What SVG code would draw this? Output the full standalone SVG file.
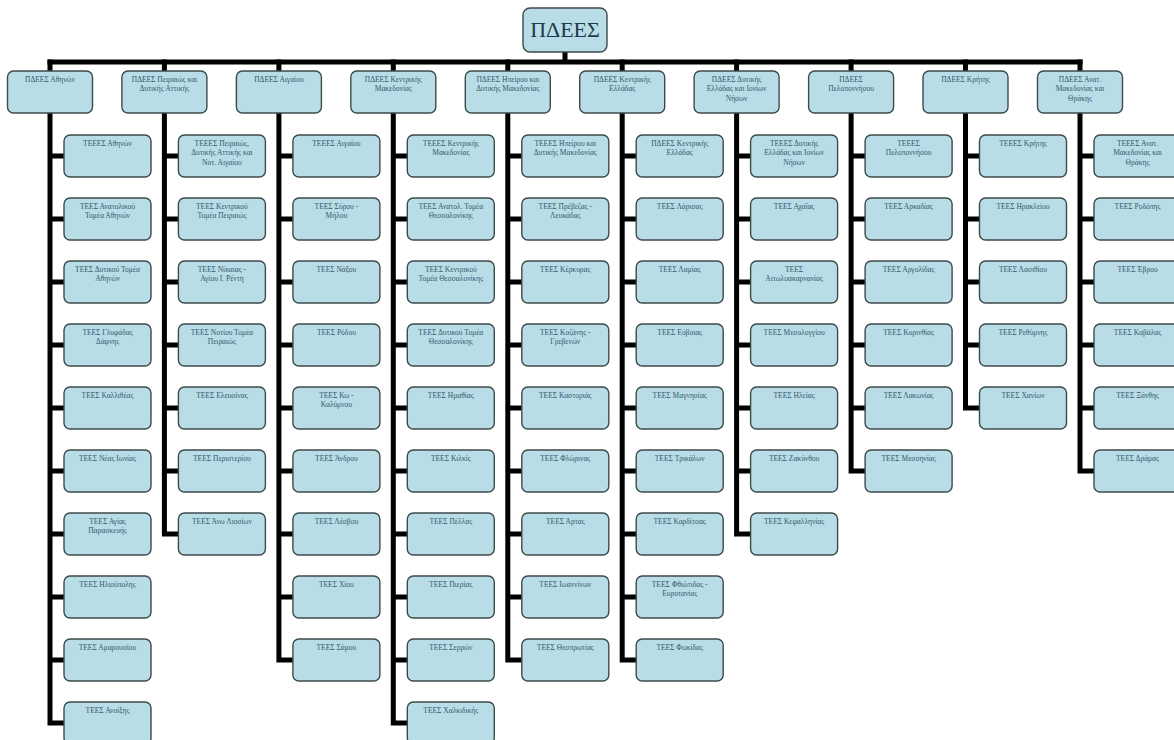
<svg xmlns="http://www.w3.org/2000/svg" width="1174" height="740" viewBox="0 0 1174 740">
<style>
.b{fill:#b9dde6;stroke:#3d4a4c;stroke-width:1.4}
.t{font-family:"Liberation Serif","Times New Roman",serif;font-size:7.5px;fill:#34576d;text-anchor:middle}
.r{font-family:"Liberation Serif","Times New Roman",serif;font-size:22px;fill:#1f3a4c;text-anchor:middle}
.c{stroke:#000;stroke-width:5;fill:none;stroke-linejoin:miter;stroke-linecap:square}
</style>
<rect width="1174" height="740" fill="#fff"/>
<g id="connectors" class="c">
<path d="M565 52V62M50 62H1080"/>
<path d="M50 62V71M164.4 62V71M278.9 62V71M393.3 62V71M507.8 62V71M622.2 62V71M736.6 62V71M851.1 62V71M965.5 62V71M1080 62V71"/>
<path d="M50 113V723H64M50 156H64M50 219H64M50 282H64M50 345H64M50 408H64M50 471H64M50 534H64M50 597H64M50 660H64"/>
<path d="M164.4 113V534H178.4M164.4 156H178.4M164.4 219H178.4M164.4 282H178.4M164.4 345H178.4M164.4 408H178.4M164.4 471H178.4"/>
<path d="M278.9 113V660H292.9M278.9 156H292.9M278.9 219H292.9M278.9 282H292.9M278.9 345H292.9M278.9 408H292.9M278.9 471H292.9M278.9 534H292.9M278.9 597H292.9"/>
<path d="M393.3 113V723H407.3M393.3 156H407.3M393.3 219H407.3M393.3 282H407.3M393.3 345H407.3M393.3 408H407.3M393.3 471H407.3M393.3 534H407.3M393.3 597H407.3M393.3 660H407.3"/>
<path d="M507.8 113V660H521.8M507.8 156H521.8M507.8 219H521.8M507.8 282H521.8M507.8 345H521.8M507.8 408H521.8M507.8 471H521.8M507.8 534H521.8M507.8 597H521.8"/>
<path d="M622.2 113V660H636.2M622.2 156H636.2M622.2 219H636.2M622.2 282H636.2M622.2 345H636.2M622.2 408H636.2M622.2 471H636.2M622.2 534H636.2M622.2 597H636.2"/>
<path d="M736.6 113V534H750.6M736.6 156H750.6M736.6 219H750.6M736.6 282H750.6M736.6 345H750.6M736.6 408H750.6M736.6 471H750.6"/>
<path d="M851.1 113V471H865.1M851.1 156H865.1M851.1 219H865.1M851.1 282H865.1M851.1 345H865.1M851.1 408H865.1"/>
<path d="M965.5 113V408H979.5M965.5 156H979.5M965.5 219H979.5M965.5 282H979.5M965.5 345H979.5"/>
<path d="M1080 113V471H1094M1080 156H1094M1080 219H1094M1080 282H1094M1080 345H1094M1080 408H1094"/>
</g>
<g id="root"><rect class="b" x="523" y="8" width="84" height="44" rx="7"/><text class="r" x="565" y="37">ΠΔΕΕΣ</text></g>

<g id="h1"><rect class="b" x="7.5" y="71" width="85" height="42" rx="6"/><text class="t" x="50" y="81.5">ΠΔΕΕΣ Αθηνών</text></g>
<g id="h2"><rect class="b" x="121.9" y="71" width="85" height="42" rx="6"/><text class="t" x="164.4" y="81.5">ΠΔΕΕΣ Πειραιώς και<tspan x="164.4" dy="9.5">Δυτικής Αττικής</tspan></text></g>
<g id="h3"><rect class="b" x="236.4" y="71" width="85" height="42" rx="6"/><text class="t" x="278.9" y="81.5">ΠΔΕΕΣ Αιγαίου</text></g>
<g id="h4"><rect class="b" x="350.8" y="71" width="85" height="42" rx="6"/><text class="t" x="393.3" y="81.5">ΠΔΕΕΣ Κεντρικής<tspan x="393.3" dy="9.5">Μακεδονίας</tspan></text></g>
<g id="h5"><rect class="b" x="465.3" y="71" width="85" height="42" rx="6"/><text class="t" x="507.8" y="81.5">ΠΔΕΕΣ Ηπείρου και<tspan x="507.8" dy="9.5">Δυτικής Μακεδονίας</tspan></text></g>
<g id="h6"><rect class="b" x="579.7" y="71" width="85" height="42" rx="6"/><text class="t" x="622.2" y="81.5">ΠΔΕΕΣ  Κεντρικής<tspan x="622.2" dy="9.5">Ελλάδας</tspan></text></g>
<g id="h7"><rect class="b" x="694.1" y="71" width="85" height="42" rx="6"/><text class="t" x="736.6" y="81.5">ΠΔΕΕΣ Δυτικής<tspan x="736.6" dy="9.5">Ελλάδας και Ιονίων</tspan><tspan x="736.6" dy="9.5">Νήσων</tspan></text></g>
<g id="h8"><rect class="b" x="808.6" y="71" width="85" height="42" rx="6"/><text class="t" x="851.1" y="81.5">ΠΔΕΕΣ<tspan x="851.1" dy="9.5">Πελοποννήσου</tspan></text></g>
<g id="h9"><rect class="b" x="923" y="71" width="85" height="42" rx="6"/><text class="t" x="965.5" y="81.5">ΠΔΕΕΣ Κρήτης</text></g>
<g id="h10"><rect class="b" x="1037.5" y="71" width="85" height="42" rx="6"/><text class="t" x="1080" y="81.5">ΠΔΕΕΣ Ανατ.<tspan x="1080" dy="9.5">Μακεδονίας και</tspan><tspan x="1080" dy="9.5">Θράκης</tspan></text></g>

<g id="c1">
<g id="c1-1"><rect class="b" x="64" y="135" width="87" height="42" rx="6"/><text class="t" x="107.5" y="145.5">ΤΕΕΕΣ Αθηνών</text></g>
<g id="c1-2"><rect class="b" x="64" y="198" width="87" height="42" rx="6"/><text class="t" x="107.5" y="208.5">ΤΕΕΣ Ανατολικού<tspan x="107.5" dy="9.5">Τομέα Αθηνών</tspan></text></g>
<g id="c1-3"><rect class="b" x="64" y="261" width="87" height="42" rx="6"/><text class="t" x="107.5" y="271.5">ΤΕΕΣ Δυτικού Τομέα<tspan x="107.5" dy="9.5">Αθηνών</tspan></text></g>
<g id="c1-4"><rect class="b" x="64" y="324" width="87" height="42" rx="6"/><text class="t" x="107.5" y="334.5">ΤΕΕΣ Γλυφάδας<tspan x="107.5" dy="9.5">Δάφνης</tspan></text></g>
<g id="c1-5"><rect class="b" x="64" y="387" width="87" height="42" rx="6"/><text class="t" x="107.5" y="397.5">ΤΕΕΣ Καλλιθέας</text></g>
<g id="c1-6"><rect class="b" x="64" y="450" width="87" height="42" rx="6"/><text class="t" x="107.5" y="460.5">ΤΕΕΣ Νέας Ιωνίας</text></g>
<g id="c1-7"><rect class="b" x="64" y="513" width="87" height="42" rx="6"/><text class="t" x="107.5" y="523.5">ΤΕΕΣ Αγίας<tspan x="107.5" dy="9.5">Παρασκευής</tspan></text></g>
<g id="c1-8"><rect class="b" x="64" y="576" width="87" height="42" rx="6"/><text class="t" x="107.5" y="586.5">ΤΕΕΣ Ηλιούπολης</text></g>
<g id="c1-9"><rect class="b" x="64" y="639" width="87" height="42" rx="6"/><text class="t" x="107.5" y="649.5">ΤΕΕΣ Αμαρουσίου</text></g>
<g id="c1-10"><rect class="b" x="64" y="702" width="87" height="42" rx="6"/><text class="t" x="107.5" y="712.5">ΤΕΕΣ Ανοίξης</text></g>
</g>

<g id="c2">
<g id="c2-1"><rect class="b" x="178.4" y="135" width="87" height="42" rx="6"/><text class="t" x="221.9" y="145.5">ΤΕΕΕΣ Πειραιώς,<tspan x="221.9" dy="9.5">Δυτικής Αττικής και</tspan><tspan x="221.9" dy="9.5">Νοτ. Αιγαίου</tspan></text></g>
<g id="c2-2"><rect class="b" x="178.4" y="198" width="87" height="42" rx="6"/><text class="t" x="221.9" y="208.5">ΤΕΕΣ Κεντρικού<tspan x="221.9" dy="9.5">Τομέα Πειραιώς</tspan></text></g>
<g id="c2-3"><rect class="b" x="178.4" y="261" width="87" height="42" rx="6"/><text class="t" x="221.9" y="271.5">ΤΕΕΣ Νίκαιας -<tspan x="221.9" dy="9.5">Αγίου Ι. Ρέντη</tspan></text></g>
<g id="c2-4"><rect class="b" x="178.4" y="324" width="87" height="42" rx="6"/><text class="t" x="221.9" y="334.5">ΤΕΕΣ Νοτίου Τομέα<tspan x="221.9" dy="9.5">Πειραιώς</tspan></text></g>
<g id="c2-5"><rect class="b" x="178.4" y="387" width="87" height="42" rx="6"/><text class="t" x="221.9" y="397.5">ΤΕΕΣ Ελευσίνας</text></g>
<g id="c2-6"><rect class="b" x="178.4" y="450" width="87" height="42" rx="6"/><text class="t" x="221.9" y="460.5">ΤΕΕΣ Περιστερίου</text></g>
<g id="c2-7"><rect class="b" x="178.4" y="513" width="87" height="42" rx="6"/><text class="t" x="221.9" y="523.5">ΤΕΕΣ Άνω Λιοσίων</text></g>
</g>

<g id="c3">
<g id="c3-1"><rect class="b" x="292.9" y="135" width="87" height="42" rx="6"/><text class="t" x="336.4" y="145.5">ΤΕΕΕΣ Αιγαίου</text></g>
<g id="c3-2"><rect class="b" x="292.9" y="198" width="87" height="42" rx="6"/><text class="t" x="336.4" y="208.5">ΤΕΕΣ Σύρου -<tspan x="336.4" dy="9.5">Μήλου</tspan></text></g>
<g id="c3-3"><rect class="b" x="292.9" y="261" width="87" height="42" rx="6"/><text class="t" x="336.4" y="271.5">ΤΕΕΣ Νάξου</text></g>
<g id="c3-4"><rect class="b" x="292.9" y="324" width="87" height="42" rx="6"/><text class="t" x="336.4" y="334.5">ΤΕΕΣ Ρόδου</text></g>
<g id="c3-5"><rect class="b" x="292.9" y="387" width="87" height="42" rx="6"/><text class="t" x="336.4" y="397.5">ΤΕΕΣ Κω -<tspan x="336.4" dy="9.5">Καλύμνου</tspan></text></g>
<g id="c3-6"><rect class="b" x="292.9" y="450" width="87" height="42" rx="6"/><text class="t" x="336.4" y="460.5">ΤΕΕΣ Άνδρου</text></g>
<g id="c3-7"><rect class="b" x="292.9" y="513" width="87" height="42" rx="6"/><text class="t" x="336.4" y="523.5">ΤΕΕΣ Λέσβου</text></g>
<g id="c3-8"><rect class="b" x="292.9" y="576" width="87" height="42" rx="6"/><text class="t" x="336.4" y="586.5">ΤΕΕΣ Χίου</text></g>
<g id="c3-9"><rect class="b" x="292.9" y="639" width="87" height="42" rx="6"/><text class="t" x="336.4" y="649.5">ΤΕΕΣ Σάμου</text></g>
</g>

<g id="c4">
<g id="c4-1"><rect class="b" x="407.3" y="135" width="87" height="42" rx="6"/><text class="t" x="450.8" y="145.5">ΤΕΕΕΣ Κεντρικής<tspan x="450.8" dy="9.5">Μακεδονίας</tspan></text></g>
<g id="c4-2"><rect class="b" x="407.3" y="198" width="87" height="42" rx="6"/><text class="t" x="450.8" y="208.5">ΤΕΕΣ Ανατολ. Τομέα<tspan x="450.8" dy="9.5">Θεσσαλονίκης</tspan></text></g>
<g id="c4-3"><rect class="b" x="407.3" y="261" width="87" height="42" rx="6"/><text class="t" x="450.8" y="271.5">ΤΕΕΣ Κεντρικού<tspan x="450.8" dy="9.5">Τομέα Θεσσαλονίκης</tspan></text></g>
<g id="c4-4"><rect class="b" x="407.3" y="324" width="87" height="42" rx="6"/><text class="t" x="450.8" y="334.5">ΤΕΕΣ Δυτικού Τομέα<tspan x="450.8" dy="9.5">Θεσσαλονίκης</tspan></text></g>
<g id="c4-5"><rect class="b" x="407.3" y="387" width="87" height="42" rx="6"/><text class="t" x="450.8" y="397.5">ΤΕΕΣ Ημαθίας</text></g>
<g id="c4-6"><rect class="b" x="407.3" y="450" width="87" height="42" rx="6"/><text class="t" x="450.8" y="460.5">ΤΕΕΣ Κιλκίς</text></g>
<g id="c4-7"><rect class="b" x="407.3" y="513" width="87" height="42" rx="6"/><text class="t" x="450.8" y="523.5">ΤΕΕΣ Πέλλας</text></g>
<g id="c4-8"><rect class="b" x="407.3" y="576" width="87" height="42" rx="6"/><text class="t" x="450.8" y="586.5">ΤΕΕΣ Πιερίας</text></g>
<g id="c4-9"><rect class="b" x="407.3" y="639" width="87" height="42" rx="6"/><text class="t" x="450.8" y="649.5">ΤΕΕΣ Σερρών</text></g>
<g id="c4-10"><rect class="b" x="407.3" y="702" width="87" height="42" rx="6"/><text class="t" x="450.8" y="712.5">ΤΕΕΣ Χαλκιδικής</text></g>
</g>

<g id="c5">
<g id="c5-1"><rect class="b" x="521.8" y="135" width="87" height="42" rx="6"/><text class="t" x="565.3" y="145.5">ΤΕΕΕΣ Ηπείρου και<tspan x="565.3" dy="9.5">Δυτικής Μακεδονίας</tspan></text></g>
<g id="c5-2"><rect class="b" x="521.8" y="198" width="87" height="42" rx="6"/><text class="t" x="565.3" y="208.5">ΤΕΕΣ Πρέβεζας -<tspan x="565.3" dy="9.5">Λευκάδας</tspan></text></g>
<g id="c5-3"><rect class="b" x="521.8" y="261" width="87" height="42" rx="6"/><text class="t" x="565.3" y="271.5">ΤΕΕΣ Κέρκυρας</text></g>
<g id="c5-4"><rect class="b" x="521.8" y="324" width="87" height="42" rx="6"/><text class="t" x="565.3" y="334.5">ΤΕΕΣ Κοζάνης -<tspan x="565.3" dy="9.5">Γρεβενών</tspan></text></g>
<g id="c5-5"><rect class="b" x="521.8" y="387" width="87" height="42" rx="6"/><text class="t" x="565.3" y="397.5">ΤΕΕΣ Καστοριάς</text></g>
<g id="c5-6"><rect class="b" x="521.8" y="450" width="87" height="42" rx="6"/><text class="t" x="565.3" y="460.5">ΤΕΕΣ Φλώρινας</text></g>
<g id="c5-7"><rect class="b" x="521.8" y="513" width="87" height="42" rx="6"/><text class="t" x="565.3" y="523.5">ΤΕΕΣ Άρτας</text></g>
<g id="c5-8"><rect class="b" x="521.8" y="576" width="87" height="42" rx="6"/><text class="t" x="565.3" y="586.5">ΤΕΕΣ Ιωαννίνων</text></g>
<g id="c5-9"><rect class="b" x="521.8" y="639" width="87" height="42" rx="6"/><text class="t" x="565.3" y="649.5">ΤΕΕΣ Θεσπρωτίας</text></g>
</g>

<g id="c6">
<g id="c6-1"><rect class="b" x="636.2" y="135" width="87" height="42" rx="6"/><text class="t" x="679.7" y="145.5">ΠΔΕΕΣ  Κεντρικής<tspan x="679.7" dy="9.5">Ελλάδας</tspan></text></g>
<g id="c6-2"><rect class="b" x="636.2" y="198" width="87" height="42" rx="6"/><text class="t" x="679.7" y="208.5">ΤΕΕΣ Λάρισας</text></g>
<g id="c6-3"><rect class="b" x="636.2" y="261" width="87" height="42" rx="6"/><text class="t" x="679.7" y="271.5">ΤΕΕΣ Λαμίας</text></g>
<g id="c6-4"><rect class="b" x="636.2" y="324" width="87" height="42" rx="6"/><text class="t" x="679.7" y="334.5">ΤΕΕΣ Εύβοιας</text></g>
<g id="c6-5"><rect class="b" x="636.2" y="387" width="87" height="42" rx="6"/><text class="t" x="679.7" y="397.5">ΤΕΕΣ Μαγνησίας</text></g>
<g id="c6-6"><rect class="b" x="636.2" y="450" width="87" height="42" rx="6"/><text class="t" x="679.7" y="460.5">ΤΕΕΣ Τρικάλων</text></g>
<g id="c6-7"><rect class="b" x="636.2" y="513" width="87" height="42" rx="6"/><text class="t" x="679.7" y="523.5">ΤΕΕΣ Καρδίτσας</text></g>
<g id="c6-8"><rect class="b" x="636.2" y="576" width="87" height="42" rx="6"/><text class="t" x="679.7" y="586.5">ΤΕΕΣ Φθιώτιδας -<tspan x="679.7" dy="9.5">Ευρυτανίας</tspan></text></g>
<g id="c6-9"><rect class="b" x="636.2" y="639" width="87" height="42" rx="6"/><text class="t" x="679.7" y="649.5">ΤΕΕΣ Φωκίδας</text></g>
</g>

<g id="c7">
<g id="c7-1"><rect class="b" x="750.6" y="135" width="87" height="42" rx="6"/><text class="t" x="794.1" y="145.5">ΤΕΕΕΣ Δυτικής<tspan x="794.1" dy="9.5">Ελλάδας και Ιονίων</tspan><tspan x="794.1" dy="9.5">Νήσων</tspan></text></g>
<g id="c7-2"><rect class="b" x="750.6" y="198" width="87" height="42" rx="6"/><text class="t" x="794.1" y="208.5">ΤΕΕΣ Αχαΐας</text></g>
<g id="c7-3"><rect class="b" x="750.6" y="261" width="87" height="42" rx="6"/><text class="t" x="794.1" y="271.5">ΤΕΕΣ<tspan x="794.1" dy="9.5">Αιτωλοακαρνανίας</tspan></text></g>
<g id="c7-4"><rect class="b" x="750.6" y="324" width="87" height="42" rx="6"/><text class="t" x="794.1" y="334.5">ΤΕΕΣ Μεσολογγίου</text></g>
<g id="c7-5"><rect class="b" x="750.6" y="387" width="87" height="42" rx="6"/><text class="t" x="794.1" y="397.5">ΤΕΕΣ Ηλείας</text></g>
<g id="c7-6"><rect class="b" x="750.6" y="450" width="87" height="42" rx="6"/><text class="t" x="794.1" y="460.5">ΤΕΕΣ Ζακύνθου</text></g>
<g id="c7-7"><rect class="b" x="750.6" y="513" width="87" height="42" rx="6"/><text class="t" x="794.1" y="523.5">ΤΕΕΣ Κεφαλληνίας</text></g>
</g>

<g id="c8">
<g id="c8-1"><rect class="b" x="865.1" y="135" width="87" height="42" rx="6"/><text class="t" x="908.6" y="145.5">ΤΕΕΕΣ<tspan x="908.6" dy="9.5">Πελοποννήσου</tspan></text></g>
<g id="c8-2"><rect class="b" x="865.1" y="198" width="87" height="42" rx="6"/><text class="t" x="908.6" y="208.5">ΤΕΕΣ Αρκαδίας</text></g>
<g id="c8-3"><rect class="b" x="865.1" y="261" width="87" height="42" rx="6"/><text class="t" x="908.6" y="271.5">ΤΕΕΣ Αργολίδας</text></g>
<g id="c8-4"><rect class="b" x="865.1" y="324" width="87" height="42" rx="6"/><text class="t" x="908.6" y="334.5">ΤΕΕΣ Κορινθίας</text></g>
<g id="c8-5"><rect class="b" x="865.1" y="387" width="87" height="42" rx="6"/><text class="t" x="908.6" y="397.5">ΤΕΕΣ Λακωνίας</text></g>
<g id="c8-6"><rect class="b" x="865.1" y="450" width="87" height="42" rx="6"/><text class="t" x="908.6" y="460.5">ΤΕΕΣ Μεσσηνίας</text></g>
</g>

<g id="c9">
<g id="c9-1"><rect class="b" x="979.5" y="135" width="87" height="42" rx="6"/><text class="t" x="1023" y="145.5">ΤΕΕΕΣ Κρήτης</text></g>
<g id="c9-2"><rect class="b" x="979.5" y="198" width="87" height="42" rx="6"/><text class="t" x="1023" y="208.5">ΤΕΕΣ Ηρακλείου</text></g>
<g id="c9-3"><rect class="b" x="979.5" y="261" width="87" height="42" rx="6"/><text class="t" x="1023" y="271.5">ΤΕΕΣ Λασιθίου</text></g>
<g id="c9-4"><rect class="b" x="979.5" y="324" width="87" height="42" rx="6"/><text class="t" x="1023" y="334.5">ΤΕΕΣ Ρεθύμνης</text></g>
<g id="c9-5"><rect class="b" x="979.5" y="387" width="87" height="42" rx="6"/><text class="t" x="1023" y="397.5">ΤΕΕΣ Χανίων</text></g>
</g>

<g id="c10">
<g id="c10-1"><rect class="b" x="1094" y="135" width="87" height="42" rx="6"/><text class="t" x="1137.5" y="145.5">ΤΕΕΕΣ Ανατ.<tspan x="1137.5" dy="9.5">Μακεδονίας και</tspan><tspan x="1137.5" dy="9.5">Θράκης</tspan></text></g>
<g id="c10-2"><rect class="b" x="1094" y="198" width="87" height="42" rx="6"/><text class="t" x="1137.5" y="208.5">ΤΕΕΣ Ροδόπης</text></g>
<g id="c10-3"><rect class="b" x="1094" y="261" width="87" height="42" rx="6"/><text class="t" x="1137.5" y="271.5">ΤΕΕΣ Έβρου</text></g>
<g id="c10-4"><rect class="b" x="1094" y="324" width="87" height="42" rx="6"/><text class="t" x="1137.5" y="334.5">ΤΕΕΣ Καβάλας</text></g>
<g id="c10-5"><rect class="b" x="1094" y="387" width="87" height="42" rx="6"/><text class="t" x="1137.5" y="397.5">ΤΕΕΣ Ξάνθης</text></g>
<g id="c10-6"><rect class="b" x="1094" y="450" width="87" height="42" rx="6"/><text class="t" x="1137.5" y="460.5">ΤΕΕΣ Δράμας</text></g>
</g>
</svg>
